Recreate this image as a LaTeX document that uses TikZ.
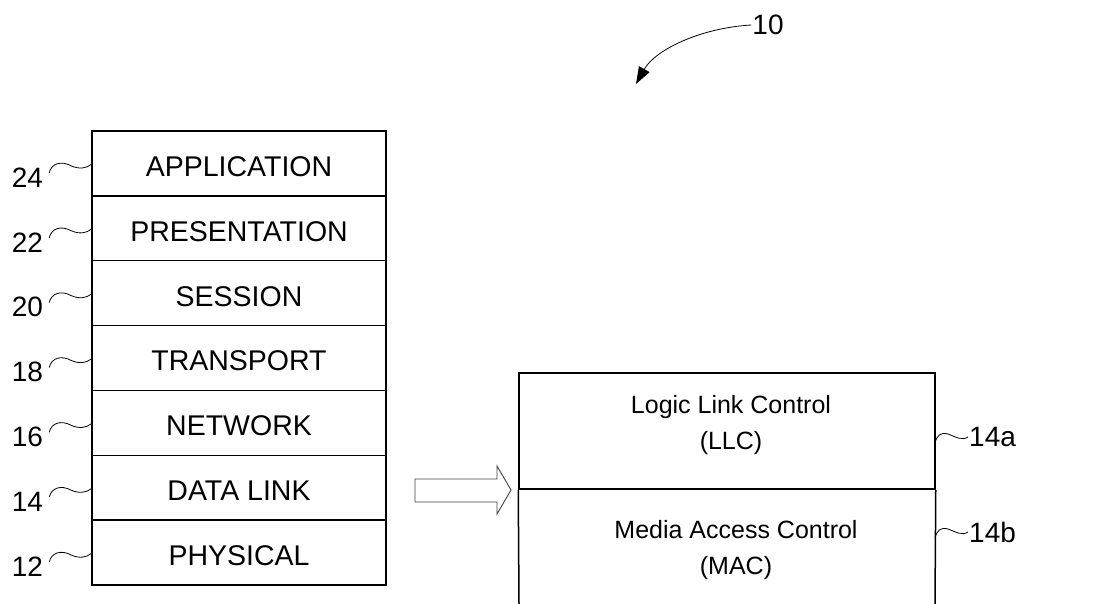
\documentclass[tikz,border=0pt]{standalone}
\usepackage{fontspec}
\setmainfont{Liberation Sans}
\usetikzlibrary{arrows.meta,calc}
\begin{document}
\begin{tikzpicture}[x=1pt,y=-1pt,
  layer/.style={draw,line width=1.5pt,minimum width=294pt,minimum height=64.86pt,
    inner sep=0pt,text height=26pt,text depth=0pt,font=\fontsize{28.5}{30}\selectfont},
  refnum/.style={font=\fontsize{28}{30}\selectfont,inner sep=1pt},
  wave/.style={line width=0.8pt},
  boxline/.style={line width=1.5pt},
  subtext/.style={inner sep=0pt,align=center,font=\fontsize{25}{36}\selectfont},
  hollow/.style={draw=black!75,line width=0.9pt}]
\useasboundingbox (0,0) rectangle (1102,604);

% OSI protocol stack
\foreach \name/\txt/\num [count=\i from 0] in
  {app/APPLICATION/24, pres/PRESENTATION/22, sess/SESSION/20,
   trans/TRANSPORT/18, net/NETWORK/16, dl/DATA LINK/14, phys/PHYSICAL/12}{
  \node[layer] (\name) at (239,{163.4+64.86*\i}) {\txt};
  \node[refnum,anchor=east] (n\num) at ($(\name.west)+(-47,14)$) {\num};
  \draw[wave] ([shift={(-42,9.5)}]\name.west)
     .. controls ([shift={(-40,0)}]\name.west) and ([shift={(-30,-3)}]\name.west)
     .. ([shift={(-20,2.5)}]\name.west)
     .. controls ([shift={(-12,6)}]\name.west) and ([shift={(-5,5)}]\name.west)
     .. ([shift={(0,1)}]\name.west);
}

% hollow block arrow
\draw[hollow] (415,479) -- (497,479) -- (497,466) -- (511,490) -- (497,514)
  -- (497,502) -- (415,502) -- cycle;

% data link sublayers
\node[draw,boxline,minimum width=416pt,minimum height=116pt,inner sep=0pt] (llc)
  at (727,431) {};
\node[subtext] (llctext) at (731,425) {Logic Link Control\\(LLC)};
\node[subtext] (mac) at (736,550) {Media Access Control\\(MAC)};
\coordinate (macbl) at (519,604);
\coordinate (macbr) at (935,604);
\draw[boxline] (llc.south west) -- (macbl);
\draw[boxline] (llc.south east) -- (macbr);

\node[refnum,anchor=west] (n14a) at (968,437) {14a};
\node[refnum,anchor=west] (n14b) at (968,532) {14b};
\foreach \lab in {n14a,n14b}{
  \draw[wave] ([shift={(-33,6)}]\lab.west)
     .. controls ([shift={(-31,-2)}]\lab.west) and ([shift={(-27,-5)}]\lab.west)
     .. ([shift={(-20,-3)}]\lab.west)
     .. controls ([shift={(-12,0)}]\lab.west) and ([shift={(-6,4)}]\lab.west)
     .. (\lab.west);
}

% overall reference numeral
\node[refnum] (n10) at (768,25) {10};
\coordinate (tip10) at (636,84);
\draw[line width=0.8pt,-{Triangle[length=17pt,width=12pt]}] (n10.west)
  .. controls (700,28) and (655,50) .. (tip10);
\end{tikzpicture}
\end{document}
